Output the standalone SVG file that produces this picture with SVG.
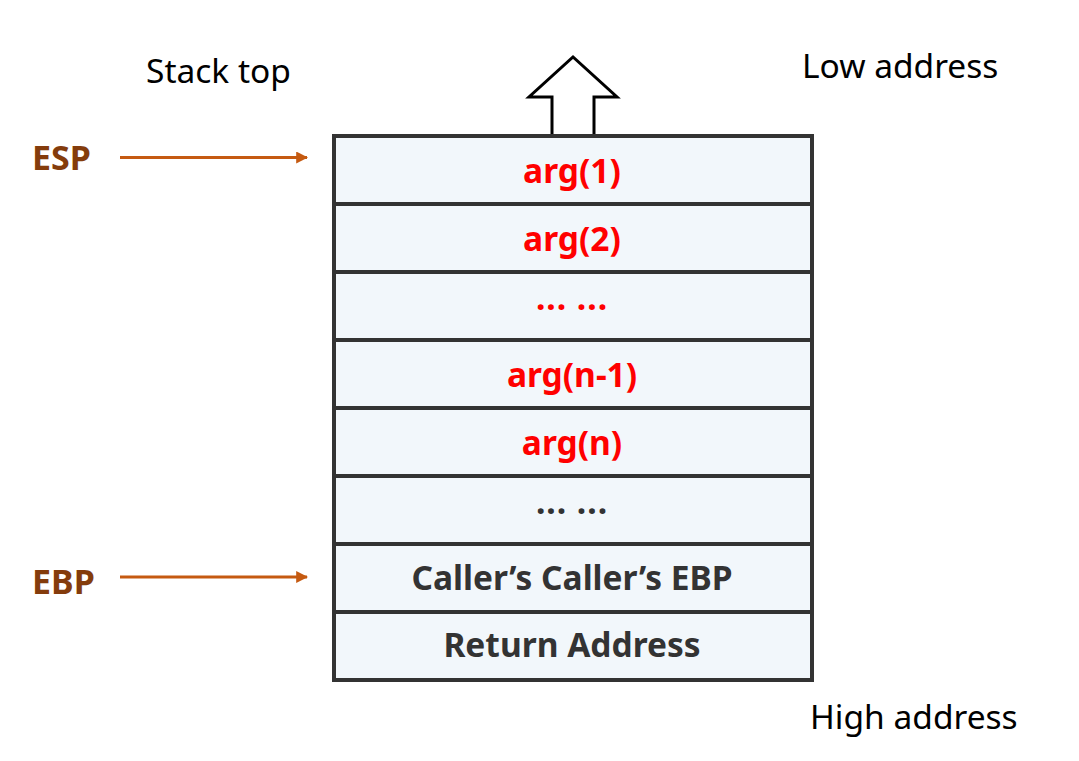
<svg xmlns="http://www.w3.org/2000/svg" width="1079" height="761" viewBox="0 0 1079 761">
<defs>
<style>
.lbl{font-family:"Noto Sans","Liberation Sans",sans-serif;font-size:33.5px;fill:#000}
.reg{font-family:"Noto Sans","Liberation Sans",sans-serif;font-size:34px;font-weight:bold;fill:#843C0C}
.cell{fill:#F2F7FB;stroke:#333333;stroke-width:4}
.red{font-family:"Noto Sans","Liberation Sans",sans-serif;font-size:33.5px;font-weight:bold;fill:#FF0000;text-anchor:middle}
.dark{font-family:"Noto Sans","Liberation Sans",sans-serif;font-size:33.5px;font-weight:bold;fill:#333333;text-anchor:middle}
.ptr{stroke:#C55A11;stroke-width:3;fill:none}
</style>
<marker id="ah" viewBox="0 0 10 10" refX="9" refY="5" markerWidth="4" markerHeight="4" markerUnits="strokeWidth" orient="auto">
<path d="M0,0 L10,5 L0,10 Z" fill="#C55A11"/>
</marker>
</defs>
<rect width="1079" height="761" fill="#ffffff"/>
<text class="lbl" x="146" y="83">Stack top</text>
<text class="lbl" x="802" y="78">Low address</text>
<text class="lbl" x="810" y="729">High address</text>
<g id="growth-arrow">
<path d="M552,136 L552,97 L529,97 L573,57 L617,97 L594,97 L594,136" fill="#ffffff" stroke="#000000" stroke-width="3" stroke-linejoin="miter"/>
</g>
<g id="esp"><text class="reg" x="32" y="170">ESP</text></g>
<g id="ebp"><text class="reg" x="32" y="594">EBP</text></g>
<g id="stack">
<g id="row1"><rect class="cell" x="334" y="136" width="478" height="68"/><text class="red" x="572" y="183">arg(1)</text></g>
<g id="row2"><rect class="cell" x="334" y="204" width="478" height="68"/><text class="red" x="572" y="251">arg(2)</text></g>
<g id="row3"><rect class="cell" x="334" y="272" width="478" height="68"/><text class="red" x="572" y="310" letter-spacing="1">... ...</text></g>
<g id="row4"><rect class="cell" x="334" y="340" width="478" height="68"/><text class="red" x="572" y="387">arg(n-1)</text></g>
<g id="row5"><rect class="cell" x="334" y="408" width="478" height="68"/><text class="red" x="572" y="455">arg(n)</text></g>
<g id="row6"><rect class="cell" x="334" y="476" width="478" height="68"/><text class="dark" x="572" y="514" letter-spacing="1">... ...</text></g>
<g id="row7"><rect class="cell" x="334" y="544" width="478" height="68"/><text class="dark" x="572" y="590">Caller’s Caller’s EBP</text></g>
<g id="row8"><rect class="cell" x="334" y="612" width="478" height="68"/><text class="dark" x="572" y="657">Return Address</text></g>
</g>
<g id="connectors">
<line class="ptr" x1="120" y1="157.5" x2="307" y2="157.5" marker-end="url(#ah)"/>
<line class="ptr" x1="120" y1="577" x2="307" y2="577" marker-end="url(#ah)"/>
</g>
</svg>
